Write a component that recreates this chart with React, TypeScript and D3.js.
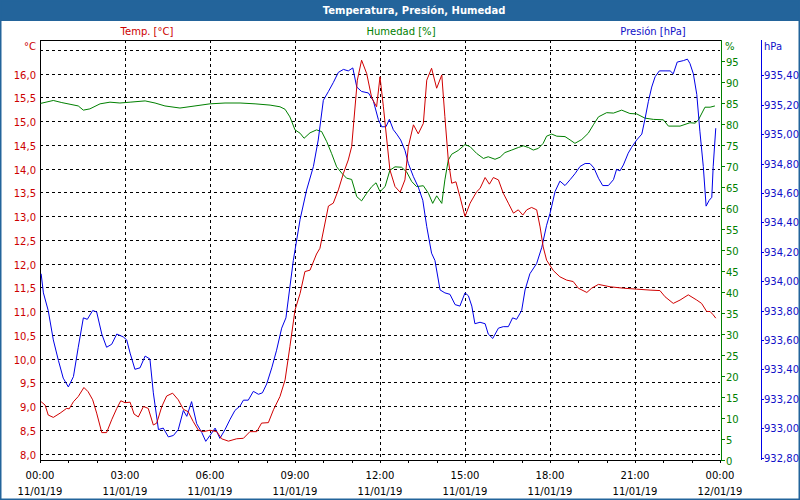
import React from "react";
import * as d3 from "d3";

// ---------- data ----------
const tempHours = [0.04,0.18,0.29,0.47,0.71,0.94,1.03,1.18,1.35,1.55,1.7,1.86,2.0,2.18,2.35,2.53,2.71,2.85,3.0,3.18,3.32,3.47,3.65,3.82,4.0,4.12,4.3,4.47,4.68,4.88,5.06,5.23,5.41,5.59,5.76,6.0,6.24,6.41,6.65,6.94,7.18,7.41,7.65,7.82,8.06,8.24,8.47,8.65,8.82,9.0,9.18,9.35,9.53,9.76,9.88,10.18,10.35,10.53,10.71,10.88,11.0,11.08,11.2,11.35,11.53,11.71,11.88,12.0,12.12,12.24,12.35,12.53,12.71,12.88,13.0,13.18,13.35,13.53,13.65,13.82,14.0,14.18,14.29,14.41,14.53,14.68,14.82,15.0,15.18,15.41,15.53,15.71,15.86,16.0,16.18,16.35,16.53,16.71,16.88,17.04,17.18,17.35,17.53,17.65,17.76,17.88,18.12,18.35,18.59,18.82,19.0,19.3,19.47,19.71,20.12,20.59,21.06,21.53,21.88,22.06,22.35,22.59,22.88,23.18,23.35,23.53,23.65,23.76,23.85];
const tempValues = [9.09,9.02,8.81,8.76,8.85,8.95,8.94,9.09,9.2,9.39,9.3,9.13,8.85,8.44,8.44,8.71,8.95,9.11,9.07,9.08,8.83,8.77,8.99,8.95,8.6,8.64,8.99,9.21,9.27,9.13,8.93,8.88,8.67,8.49,8.46,8.49,8.46,8.31,8.26,8.31,8.32,8.46,8.46,8.64,8.65,8.92,9.2,9.55,10.25,11.02,11.37,11.83,11.86,12.2,12.32,13.21,13.27,13.55,13.9,14.18,14.46,15.02,15.86,16.28,16.0,15.48,15.3,15.93,15.3,14.6,13.97,13.62,13.5,13.76,14.46,14.92,14.73,14.95,15.86,16.11,15.69,15.97,15.09,14.18,13.69,13.72,13.41,12.99,13.27,13.51,13.58,13.81,13.67,13.81,13.76,13.48,13.27,13.06,13.13,13.02,13.13,13.18,13.13,12.77,12.35,12.07,11.85,11.72,11.65,11.62,11.48,11.39,11.48,11.56,11.51,11.48,11.46,11.44,11.43,11.3,11.16,11.23,11.34,11.23,11.16,10.99,10.99,10.92,10.85];

const humHours = [0.02,0.47,0.77,1.06,1.35,1.53,1.76,2.12,2.47,2.82,3.18,3.71,4.06,4.41,4.94,5.47,6.0,6.53,7.06,7.59,8.12,8.47,8.65,8.82,9.0,9.18,9.32,9.53,9.76,9.94,10.12,10.29,10.47,10.65,10.82,11.0,11.18,11.35,11.53,11.71,11.86,12.0,12.18,12.35,12.53,12.76,12.94,13.12,13.29,13.53,13.71,13.86,14.0,14.18,14.29,14.41,14.53,14.76,15.0,15.18,15.41,15.65,15.82,16.06,16.24,16.41,16.65,16.88,17.06,17.24,17.41,17.59,17.76,17.88,18.06,18.24,18.53,18.71,18.88,19.12,19.35,19.53,19.71,20.0,20.24,20.53,20.82,21.06,21.35,21.65,22.0,22.18,22.59,22.94,23.12,23.24,23.47,23.65,23.82];
const humValues = [84.9,85.6,85.1,84.7,84.3,83.3,83.6,84.8,85.2,85.0,85.2,85.5,85.0,84.3,83.8,84.3,84.8,85.0,85.0,84.8,84.5,84.1,83.5,81.7,78.6,77.8,76.6,77.9,78.6,78.2,75.8,73.0,69.8,68.3,67.1,66.8,62.7,61.7,63.5,65.1,66.0,63.9,65.1,69.0,69.8,69.7,68.6,66.3,65.1,65.3,63.5,61.1,62.9,61.1,66.7,71.4,72.8,73.7,75.1,74.6,73.0,71.8,72.2,71.6,72.1,73.2,73.8,74.4,74.8,74.4,73.8,74.2,75.4,77.1,77.6,77.1,77.0,76.2,75.4,76.3,77.8,79.8,81.7,82.7,82.6,83.3,82.5,82.4,81.4,81.1,81.0,79.5,79.5,80.3,80.2,81.0,84.0,84.0,84.3];

const presHours = [0.04,0.12,0.29,0.47,0.65,0.82,1.0,1.18,1.35,1.53,1.67,1.86,2.0,2.18,2.35,2.53,2.71,2.94,3.06,3.18,3.35,3.53,3.71,3.88,4.0,4.18,4.35,4.53,4.71,4.88,5.06,5.18,5.35,5.53,5.71,5.85,6.0,6.18,6.35,6.53,6.71,6.88,7.06,7.18,7.35,7.53,7.71,7.85,8.0,8.18,8.35,8.53,8.68,8.82,8.94,9.18,9.41,9.65,9.82,10.0,10.18,10.35,10.53,10.71,10.88,11.04,11.18,11.35,11.59,11.76,11.94,12.06,12.21,12.33,12.47,12.59,12.73,12.88,13.0,13.18,13.35,13.51,13.65,13.82,13.94,14.12,14.29,14.47,14.65,14.82,15.0,15.12,15.24,15.35,15.53,15.71,15.82,15.98,16.18,16.35,16.53,16.68,16.82,17.0,17.12,17.29,17.53,17.71,17.88,18.0,18.18,18.35,18.53,18.71,18.88,19.06,19.24,19.41,19.55,19.71,19.86,20.06,20.24,20.35,20.47,20.59,20.76,20.88,21.06,21.24,21.35,21.47,21.59,21.71,21.86,22.06,22.24,22.35,22.49,22.71,22.85,22.94,23.06,23.18,23.29,23.41,23.51,23.62,23.71,23.76,23.85];
const presValues = [934.05,933.92,933.8,933.6,933.46,933.34,933.28,933.35,933.55,933.75,933.74,933.8,933.79,933.64,933.55,933.57,933.64,933.62,933.6,933.51,933.4,933.41,933.49,933.47,933.24,932.99,933.0,932.94,932.95,932.99,933.12,933.08,933.18,933.03,932.97,932.91,932.95,933.0,932.93,932.99,933.06,933.12,933.15,933.19,933.19,933.25,933.23,933.24,933.3,933.41,933.53,933.68,933.75,933.96,934.14,934.42,934.62,934.78,934.96,935.23,935.29,935.35,935.42,935.44,935.43,935.45,935.32,935.29,935.28,935.23,935.1,935.05,935.05,935.1,935.03,935.0,934.96,934.89,934.8,934.71,934.64,934.55,934.37,934.19,934.14,933.94,933.92,933.91,933.84,933.83,933.92,933.9,933.83,933.71,933.72,933.71,933.64,933.61,933.68,933.69,933.69,933.75,933.74,933.8,933.94,934.05,934.12,934.23,934.38,934.46,934.61,934.68,934.65,934.69,934.73,934.78,934.8,934.8,934.77,934.7,934.65,934.65,934.69,934.76,934.75,934.79,934.87,934.91,934.96,935.0,935.1,935.22,935.32,935.39,935.43,935.43,935.43,935.41,935.49,935.5,935.51,935.48,935.41,935.27,935.02,934.78,934.51,934.55,934.57,934.78,935.04];

const timeTicks = [0, 3, 6, 9, 12, 15, 18, 21, 24];
const timeLabels = ["00:00", "03:00", "06:00", "09:00", "12:00", "15:00", "18:00", "21:00", "00:00"];
const dateLabels = ["11/01/19", "11/01/19", "11/01/19", "11/01/19", "11/01/19", "11/01/19", "11/01/19", "11/01/19", "12/01/19"];
const tempTicks = [8, 8.5, 9, 9.5, 10, 10.5, 11, 11.5, 12, 12.5, 13, 13.5, 14, 14.5, 15, 15.5, 16];
const tempGrid = [...tempTicks, 16.5];
const humTicks = [0, 5, 10, 15, 20, 25, 30, 35, 40, 45, 50, 55, 60, 65, 70, 75, 80, 85, 90, 95];
const presTicks = [932.8, 933.0, 933.2, 933.4, 933.6, 933.8, 934.0, 934.2, 934.4, 934.6, 934.8, 935.0, 935.2, 935.4];

const TITLE = "Temperatura, Presión, Humedad";

// ---------- styles ----------
const W = 800, H = 500;
const L = 40, R = 720, T = 40, B = 460;
const FONT = "'DejaVu Sans', Verdana, sans-serif";
const FRAME = "#23649b";
const RED = "#d00000", GREEN = "#008000", BLUE = "#0000e8";
const RED_T = "#cc0000", GREEN_T = "#008000", BLUE_T = "#1010c8";

export default function App() {
  const x = d3.scaleLinear().domain([0, 24]).range([L, R]);
  const yT = d3.scaleLinear().domain([8, 16]).range([453.5, 73.5]);
  const yH = d3.scaleLinear().domain([0, 100]).range([B, T]);
  const yP = d3.scaleLinear().domain([932.8, 935.4]).range([457.5, 75.3]);

  const mk = (hours: number[], vals: number[], y: d3.ScaleLinear<number, number>) =>
    d3.line<number>().x((_, i) => x(hours[i])).y((v) => y(v))(vals) || "";

  const comma = (v: number, f: string) => d3.format(f)(v).replace(".", ",");
  const hourTicks = d3.range(0, 25);
  const gx = 721, bx = 761;

  return (
    <svg width={W} height={H} style={{ position: "absolute", left: 0, top: 0, background: "#fff" }} fontFamily={FONT} fontSize={10}>
      <rect x={0} y={0} width={W} height={H} fill="#fff" />
      {/* title bar */}
      <rect x={0} y={0} width={W} height={21} fill={FRAME} />
      <text x={W / 2 + 14} y={14} textAnchor="middle" fill="#fff" fontWeight="bold">{TITLE}</text>
      <rect x={0.5} y={0.5} width={W - 1} height={H - 1} fill="none" stroke={FRAME} strokeWidth={2} />

      {/* series captions */}
      <text x={147} y={35} textAnchor="middle" fill={RED_T}>Temp. [°C]</text>
      <text x={401} y={35} textAnchor="middle" fill={GREEN_T}>Humedad [%]</text>
      <text x={653} y={35} textAnchor="middle" fill={BLUE_T}>Presión [hPa]</text>

      {/* grid */}
      <g stroke="#000" strokeDasharray="3,3" shapeRendering="crispEdges">
        {tempGrid.map((v) => (
          <line key={"h" + v} x1={L} x2={R} y1={Math.round(yT(v)) + 0.5} y2={Math.round(yT(v)) + 0.5} />
        ))}
        {timeTicks.slice(1, -1).map((t) => (
          <line key={"v" + t} x1={Math.round(x(t)) + 0.5} x2={Math.round(x(t)) + 0.5} y1={T} y2={B} />
        ))}
      </g>

      {/* frame */}
      <g stroke="#000" shapeRendering="crispEdges">
        <line x1={L + 0.5} x2={L + 0.5} y1={T} y2={B + 1} />
        <line x1={L} x2={gx} y1={T + 0.5} y2={T + 0.5} />
        <line x1={L} x2={gx} y1={B + 0.5} y2={B + 0.5} />
        {hourTicks.map((h) => (
          <line key={"t" + h} x1={Math.round(x(h)) + 0.5} x2={Math.round(x(h)) + 0.5} y1={B} y2={B + 3} />
        ))}
      </g>

      {/* data lines */}
      <path d={mk(humHours, humValues, yH)} fill="none" stroke={GREEN} strokeWidth={1} />
      <path d={mk(presHours, presValues, yP)} fill="none" stroke={BLUE} strokeWidth={1} />
      <path d={mk(tempHours, tempValues, yT)} fill="none" stroke={RED} strokeWidth={1} />

      {/* left axis labels */}
      <text x={36} y={50} textAnchor="end" fill={RED_T}>°C</text>
      {tempTicks.map((v) => (
        <text key={"lt" + v} x={36} y={yT(v) + 5} textAnchor="end" fill={RED_T}>{comma(v, ".1f")}</text>
      ))}

      {/* humidity axis */}
      <g shapeRendering="crispEdges" stroke={GREEN}>
        <line x1={gx + 0.5} x2={gx + 0.5} y1={T} y2={B + 1} />
        {humTicks.map((v) => (
          <line key={"gh" + v} x1={gx} x2={gx + 4} y1={Math.round(yH(v)) + 0.5} y2={Math.round(yH(v)) + 0.5} />
        ))}
      </g>
      <text x={725} y={50} fill={GREEN_T}>%</text>
      {humTicks.map((v) => (
        <text key={"hl" + v} x={726} y={yH(v) + 5} fill={GREEN_T}>{v}</text>
      ))}

      {/* pressure axis */}
      <g shapeRendering="crispEdges" stroke={BLUE}>
        <line x1={bx + 0.5} x2={bx + 0.5} y1={T} y2={B} />
        {presTicks.map((v) => (
          <line key={"bp" + v} x1={bx} x2={bx + 3} y1={Math.round(yP(v)) + 0.5} y2={Math.round(yP(v)) + 0.5} />
        ))}
      </g>
      <text x={764} y={50} fill={BLUE_T}>hPa</text>
      {presTicks.map((v) => (
        <text key={"pl" + v} x={764} y={yP(v) + 4} fill={BLUE_T}>{comma(v, ".2f")}</text>
      ))}

      {/* time axis labels */}
      {timeTicks.map((t, i) => (
        <g key={"xl" + i}>
          <text x={x(t)} y={479} textAnchor="middle" fill="#000">{timeLabels[i]}</text>
          <text x={x(t)} y={495} textAnchor="middle" fill="#000">{dateLabels[i]}</text>
        </g>
      ))}
    </svg>
  );
}
